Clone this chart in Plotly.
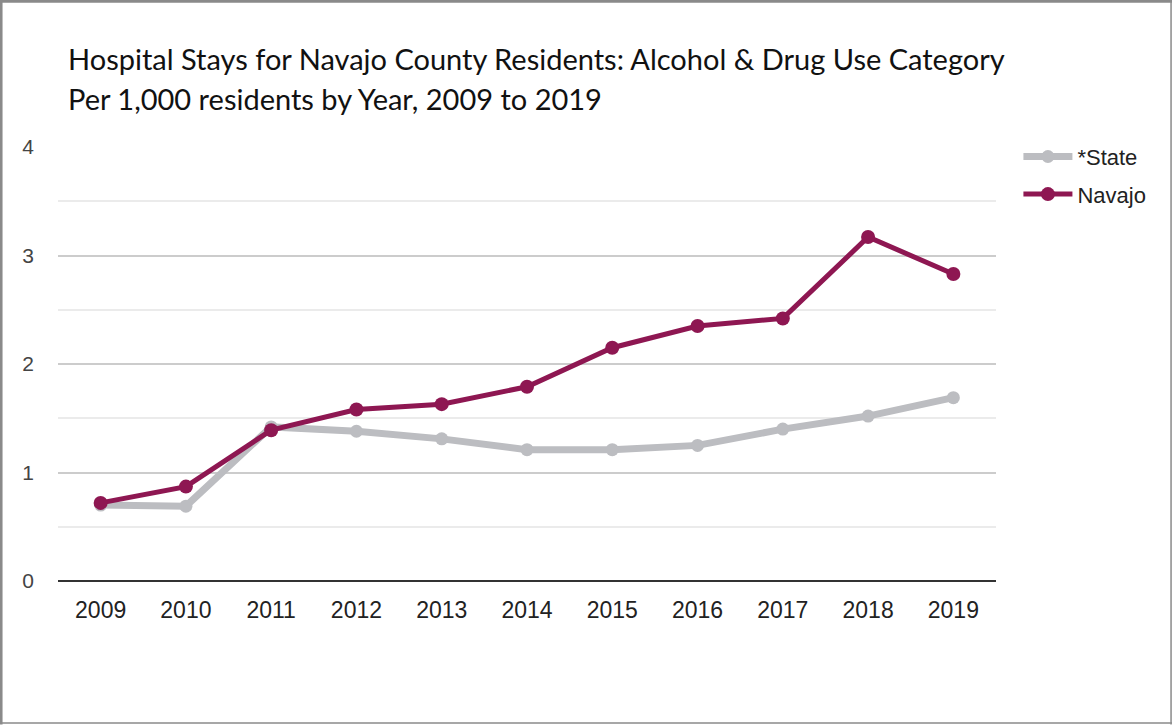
import plotly.graph_objects as go

years = ["2009", "2010", "2011", "2012", "2013", "2014", "2015", "2016", "2017", "2018", "2019"]
state = [0.70, 0.69, 1.42, 1.38, 1.31, 1.21, 1.21, 1.25, 1.40, 1.52, 1.69]
navajo = [0.72, 0.87, 1.39, 1.58, 1.63, 1.79, 2.15, 2.35, 2.42, 3.17, 2.83]
y_ticks = [0, 1, 2, 3, 4]

W, H = 1172, 725
L, R, T, B = 58.4, 176.4, 147.3, 143.5
PW, PH = W - L - R, H - T - B

def px(x):
    return (x - L) / PW

def py(y):
    return (H - B - y) / PH

fig = go.Figure()
fig.add_trace(go.Scatter(
    x=years, y=state, name="*State", mode="lines+markers", legendgroup="s",
    line=dict(color="#bcbdc1", width=7),
    marker=dict(color="#bcbdc1", size=13),
))
fig.add_trace(go.Scatter(
    x=years, y=navajo, name="Navajo", mode="lines+markers", legendgroup="n",
    line=dict(color="#8e1752", width=5),
    marker=dict(color="#8e1752", size=14),
))

fig.update_layout(
    width=W, height=H,
    margin=dict(l=L, r=R, t=T, b=B, pad=0),
    paper_bgcolor="white", plot_bgcolor="white",
    showlegend=True,
    legend=dict(
        x=px(1018), y=py(136), xanchor="left", yanchor="top",
        font=dict(family="Liberation Sans, Arial", size=22, color="#222"),
        itemwidth=49, tracegroupgap=6,
        bgcolor="rgba(0,0,0,0)",
    ),
    xaxis=dict(
        type="category", range=[-0.5, 10.5],
        showgrid=False, zeroline=False, showline=False,
        ticks="", ticklabelstandoff=13,
        tickfont=dict(family="Liberation Sans, Arial", size=23, color="#222"),
    ),
    yaxis=dict(
        range=[0, 4], tickvals=y_ticks, ticktext=[str(v) for v in y_ticks],
        showgrid=True, gridcolor="#cccccc", gridwidth=2,
        zeroline=True, zerolinecolor="#333333", zerolinewidth=2,
        showline=False, ticks="", ticklabelstandoff=23,
        tickfont=dict(family="Liberation Sans, Arial", size=21, color="#444"),
        minor=dict(dtick=0.5, showgrid=True, gridcolor="#ebebeb", gridwidth=2),
    ),
    font=dict(family="Lato, Liberation Sans, Arial"),
)

title_lines = [
    "Hospital Stays for Navajo County Residents: Alcohol & Drug Use Category",
    "Per 1,000 residents by Year, 2009 to 2019",
]
for i, t in enumerate(title_lines):
    fig.add_annotation(
        text=t, xref="paper", yref="paper", x=px(66), y=py(39 + 40 * i),
        xanchor="left", yanchor="top", showarrow=False,
        font=dict(family="Lato", size=29, color="#111"),
    )

# page border
border = "#8a8a8a"
fig.add_shape(type="line", xref="paper", yref="paper", x0=px(1.5), x1=px(1.5), y0=py(0), y1=py(725), line=dict(color=border, width=3))
fig.add_shape(type="line", xref="paper", yref="paper", x0=px(0), x1=px(1172), y0=py(1.5), y1=py(1.5), line=dict(color=border, width=3))
fig.add_shape(type="line", xref="paper", yref="paper", x0=px(1170.5), x1=px(1170.5), y0=py(0), y1=py(725), line=dict(color=border, width=1.5))
fig.add_shape(type="line", xref="paper", yref="paper", x0=px(0), x1=px(1172), y0=py(723.5), y1=py(723.5), line=dict(color=border, width=1.5))

fig.write_html("out.html")
